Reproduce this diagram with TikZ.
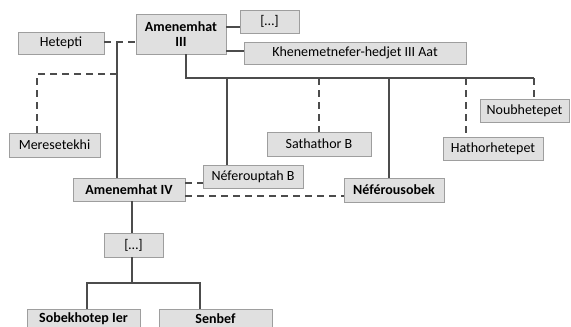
\documentclass[tikz,border=0pt]{standalone}
\usepackage{fontspec}
\setmainfont{Carlito}
\usetikzlibrary{calc}
\tikzset{
  pbox/.style={draw=black!38,fill=black!12,line width=0.8pt,inner sep=0pt,align=center,
    font=\fontsize{14}{15}\selectfont},
  kin/.style={draw=black!70,line width=1.2pt},
  wed/.style={kin,dash pattern=on 7pt off 5pt}
}
\begin{document}
\begin{tikzpicture}[x=1pt,y=-1pt]
  \useasboundingbox (0,0) rectangle (571,327);
  \clip (0,0) rectangle (571,327);
  \node[pbox,minimum width=90pt,minimum height=40pt](amIII)at(181,34){\textbf{Amenemhat}\\\textbf{III}};
  \node[pbox,minimum width=59pt,minimum height=23pt](etcA)at(269.5,21.5){[…]};
  \node[pbox,minimum width=222pt,minimum height=22pt](khen)at(355,53){Khenemetnefer-hedjet III Aat};
  \node[pbox,minimum width=86pt,minimum height=22pt](hetp)at(61,43){Hetepti};
  \node[pbox,minimum width=91pt,minimum height=24pt](mers)at(54.5,145){Meresetekhi};
  \node[pbox,minimum width=104pt,minimum height=24pt](sath)at(319,144){Sathathor B};
  \node[pbox,minimum width=89pt,minimum height=23pt](noub)at(524.5,110.5){Noubhetepet};
  \node[pbox,minimum width=100pt,minimum height=23pt](hath)at(493,148.5){Hathorhetepet};
  \node[pbox,minimum width=100pt,minimum height=23pt](nefp)at(253,176.5){Néferouptah B};
  \node[pbox,minimum width=112pt,minimum height=23pt](amIV)at(129,189.5){\textbf{Amenemhat IV}};
  \node[pbox,minimum width=100pt,minimum height=24pt](nefs)at(394,190){\textbf{Néférousobek}};
  \node[pbox,minimum width=59pt,minimum height=24pt](etcB)at(133.5,245){[…]};
  \node[pbox,minimum width=113pt,minimum height=20pt](sobk)at(83.5,319){\textbf{Sobekhotep Ier}};
  \node[pbox,minimum width=113pt,minimum height=20pt](senb)at(215.5,319){\textbf{Senbef}};
  \coordinate (wedA) at (117,42);
  \coordinate (wedB) at (117,74);
  \coordinate (busL) at (186,78);
  \coordinate (busR) at (534,78);
  \coordinate (subB) at (132,283);
  \draw[wed](hetp.east|-wedA)--(amIII.west|-wedA);
  \draw[kin](wedA)--(wedA|-amIV.north);
  \draw[wed](wedB)-|(37,0|-mers.north);
  \draw[kin](amIII.east|-0,27)--(etcA.west|-0,27);
  \draw[kin](amIII.east|-0,51)--(khen.west|-0,51);
  \draw[kin](busL|-amIII.south)--(busL)--(busR);
  \draw[wed](busR)--(busR|-noub.north);
  \draw[kin](227,0|-busL)--(227,0|-nefp.north);
  \draw[wed](sath.north|-busL)--(sath.north);
  \draw[kin](389,0|-busL)--(389,0|-nefs.north);
  \draw[wed](466,0|-busL)--(466,0|-hath.north);
  \draw[wed](amIV.east|-0,183)--(nefp.west|-0,183);
  \draw[wed](amIV.east|-0,196)--(nefs.west|-0,196);
  \draw[kin](subB|-amIV.south)--(subB|-etcB.north);
  \draw[kin](subB|-etcB.south)--(subB);
  \draw[kin](87,0|-sobk.north)--(87,0|-subB)--(200,0|-subB)--(200,0|-senb.north);
\end{tikzpicture}
\end{document}
